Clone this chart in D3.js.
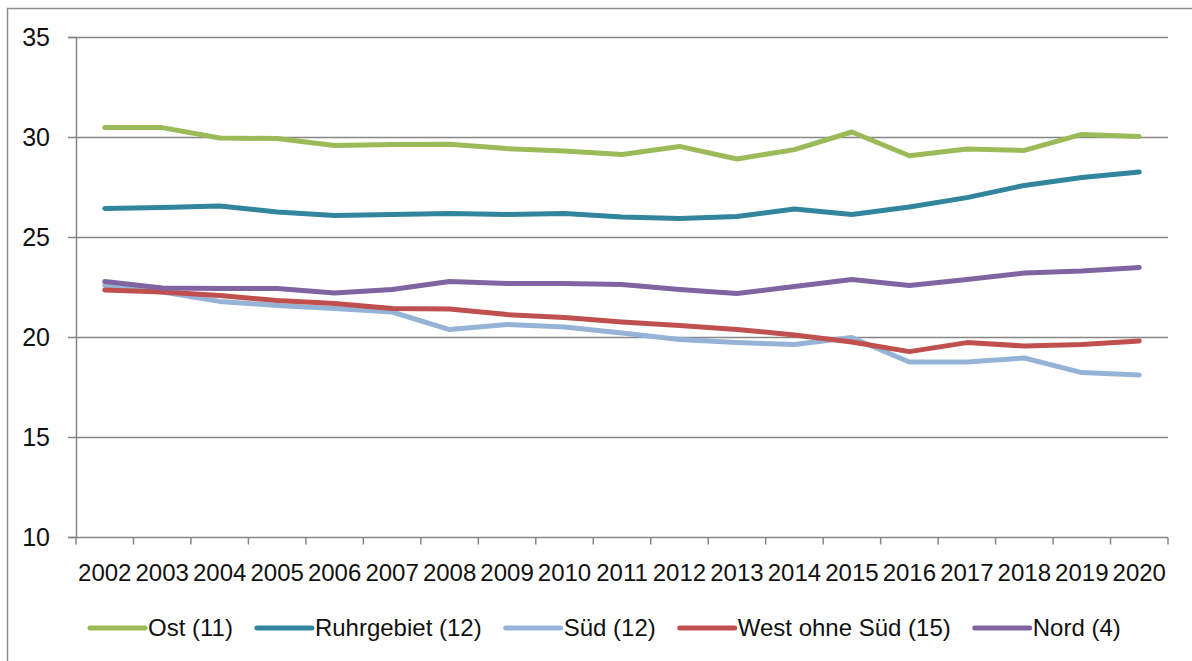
<!DOCTYPE html>
<html>
<head>
<meta charset="utf-8">
<script src="https://cdn.jsdelivr.net/npm/d3@7"></script>
<style>
  html, body { margin: 0; padding: 0; background: #fff; }
  svg { display: block; }
  text { font-family: "Liberation Sans", Arial, sans-serif; fill: #111; }
</style>
</head>
<body>
<svg id="chart" width="1192" height="661"></svg>
<script>
const years = ["2002","2003","2004","2005","2006","2007","2008","2009","2010","2011",
               "2012","2013","2014","2015","2016","2017","2018","2019","2020"];

const ost   = [30.47,30.47,29.95,29.92,29.57,29.62,29.64,29.42,29.30,29.13,29.53,28.90,29.37,30.25,29.06,29.40,29.33,30.13,30.02];
const ruhr  = [26.43,26.48,26.55,26.25,26.08,26.13,26.17,26.13,26.17,26.00,25.93,26.03,26.40,26.12,26.50,26.97,27.58,27.97,28.25];
const sued  = [22.58,22.25,21.78,21.58,21.42,21.25,20.37,20.63,20.50,20.20,19.88,19.72,19.62,19.97,18.75,18.75,18.95,18.22,18.10];
const west  = [22.35,22.25,22.08,21.82,21.67,21.42,21.40,21.12,20.97,20.75,20.58,20.38,20.10,19.75,19.27,19.72,19.55,19.63,19.80];
const nord  = [22.77,22.45,22.42,22.42,22.20,22.38,22.78,22.67,22.68,22.62,22.37,22.17,22.53,22.88,22.58,22.87,23.20,23.30,23.48];

const seriesNames  = ["Ost (11)", "Ruhrgebiet (12)", "Süd (12)", "West ohne Süd (15)", "Nord (4)"];
const seriesValues = [ost, ruhr, sued, west, nord];
const seriesColors = ["#9BBB59", "#31859C", "#95B3D7", "#C0504D", "#8064A2"];

const yTicks = [10, 15, 20, 25, 30, 35];

const svg = d3.select("#chart");
const gridColor = "#868686";
const fontSize = 25;

// outer chart frame
svg.append("rect")
  .attr("x", 7.5).attr("y", 8.5)
  .attr("width", 1200).attr("height", 700)
  .attr("fill", "none").attr("stroke", "#8c8c8c").attr("stroke-width", 1.5);

const plot = { left: 76, right: 1168, top: 37, bottom: 537 };

const x = d3.scaleBand().domain(years).range([plot.left, plot.right]).paddingInner(0).paddingOuter(0);
const y = d3.scaleLinear().domain([10, 35]).range([plot.bottom, plot.top]);

// horizontal gridlines
svg.append("g")
  .selectAll("line")
  .data(yTicks.filter(d => d !== 10))
  .join("line")
  .attr("x1", plot.left).attr("x2", plot.right)
  .attr("y1", d => Math.round(y(d)) + 0.5).attr("y2", d => Math.round(y(d)) + 0.5)
  .attr("stroke", gridColor).attr("stroke-width", 1.5);

// y axis
const yAxis = svg.append("g")
  .attr("transform", `translate(${plot.left},0)`)
  .call(d3.axisLeft(y).tickValues(yTicks).tickSize(8).tickPadding(18).tickFormat(d3.format("d")));
yAxis.attr("font-family", null).attr("font-size", null);
yAxis.select(".domain").attr("stroke", gridColor).attr("stroke-width", 1.5);
yAxis.selectAll(".tick line").attr("stroke", gridColor).attr("stroke-width", 1.5);
yAxis.selectAll(".tick text")
  .attr("font-size", fontSize).attr("fill", "#111");

// x axis with ticks at category boundaries
const xAxis = svg.append("g")
  .attr("transform", `translate(0,${Math.round(y(10)) + 0.5})`);
xAxis.append("line")
  .attr("x1", plot.left).attr("x2", plot.right)
  .attr("stroke", gridColor).attr("stroke-width", 1.5);
const bounds = years.map(d => x(d)).concat([x(years[years.length - 1]) + x.bandwidth()]);
xAxis.selectAll("line.tk")
  .data(bounds)
  .join("line")
  .attr("class", "tk")
  .attr("x1", d => d).attr("x2", d => d)
  .attr("y1", 0).attr("y2", 7)
  .attr("stroke", gridColor).attr("stroke-width", 1.5);
xAxis.selectAll("text")
  .data(years)
  .join("text")
  .attr("x", d => x(d) + x.bandwidth() / 2)
  .attr("y", 43)
  .attr("text-anchor", "middle")
  .attr("font-size", 24)
  .text(d => d);

// data lines
const line = d3.line()
  .x((d, i) => x(years[i]) + x.bandwidth() / 2)
  .y(d => y(d));

svg.append("g")
  .selectAll("path")
  .data(seriesValues)
  .join("path")
  .attr("d", d => line(d))
  .attr("fill", "none")
  .attr("stroke", (d, i) => seriesColors[i])
  .attr("stroke-width", 5)
  .attr("stroke-linecap", "round")
  .attr("stroke-linejoin", "round");

// legend
const legend = svg.append("g").attr("transform", "translate(0,628)");
const swatch = 55, swGap = 3, itemGap = 24;
const items = legend.selectAll("g")
  .data(seriesNames)
  .join("g");
items.append("line")
  .attr("x1", 0).attr("x2", swatch)
  .attr("y1", 0).attr("y2", 0)
  .attr("stroke", (d, i) => seriesColors[i])
  .attr("stroke-width", 5)
  .attr("stroke-linecap", "round");
items.append("text")
  .attr("x", swatch + swGap)
  .attr("y", 0)
  .attr("dy", "0.35em")
  .attr("font-size", 24)
  .text(d => d);
let cursor = 90;
items.each(function () {
  const g = d3.select(this);
  g.attr("transform", `translate(${cursor},0)`);
  const w = g.select("text").node().getComputedTextLength();
  cursor += swatch + swGap + w + itemGap;
});
</script>
</body>
</html>
